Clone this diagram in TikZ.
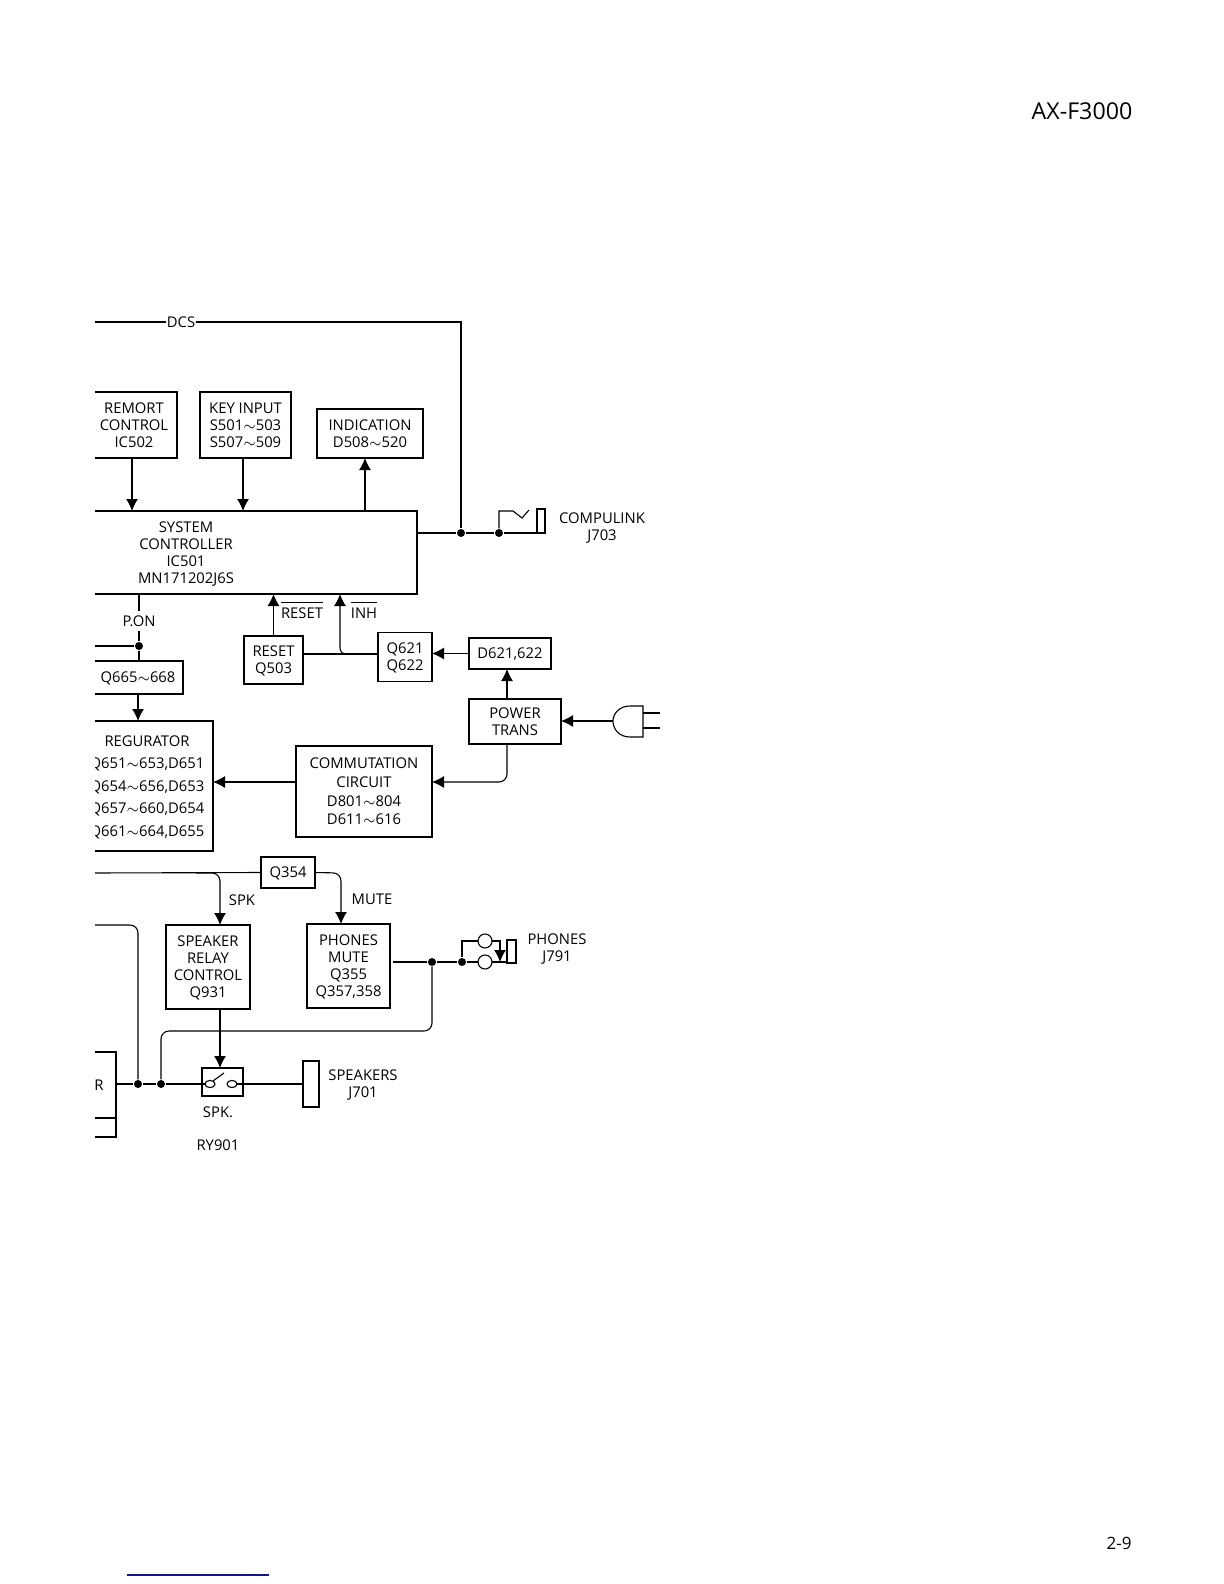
\documentclass[tikz,border=0pt]{standalone}
\usepackage{fontspec}
\setmainfont{Open Sans}
\usetikzlibrary{arrows.meta,shapes.geometric}
\newcommand{\barred}[1]{$\overline{\mbox{\rule{0pt}{6.6pt}#1}}$}
\begin{document}
\begin{tikzpicture}[
  x=0.5pt, y=-0.5pt,
  >={Latex[length=6pt,width=6pt]},
  line width=0.55pt,
  boxsize/.style 2 args={minimum width=#1*0.5pt, minimum height=#2*0.5pt},
  blockbox/.style={draw, rectangle, inner sep=0pt, outer sep=0pt, align=center, text depth=-0.6pt, font=\fontsize{7.4}{8.5}\selectfont},
  prop/.style={inner sep=0pt, align=center, text depth=-0.6pt, font=\fontsize{7.4}{8.5}\selectfont},
  dot/.style={circle, fill=black, inner sep=0pt, minimum size=4pt},
  contact/.style={draw, circle, inner sep=0pt, outer sep=0pt, minimum size=7pt},
  relaycontact/.style={draw, ellipse, inner sep=0pt, outer sep=0pt, minimum width=5pt, minimum height=3.6pt}
]
  \useasboundingbox (0,0) rectangle (1224,1584);
  \clip (95,0) rectangle (1224,1584);

  \node[blockbox, boxsize={86}{66}] (remort) at (134,425) {REMORT\\CONTROL\\IC502};
  \node[blockbox, boxsize={91}{66}] (keyinput) at (245.5,425) {KEY INPUT\\S501$\sim$503\\S507$\sim$509};
  \node[blockbox, boxsize={106}{49}] (indication) at (370,433.5) {INDICATION\\D508$\sim$520};
  \node[blockbox, boxsize={462}{83}] (syscon) at (186,552.5) {SYSTEM\\CONTROLLER\\IC501\\MN171202J6S};
  \node[blockbox, boxsize={90}{33}] (qsix) at (138,677.5) {Q665$\sim$668};
  \node[blockbox, boxsize={132}{130}, font=\fontsize{7.4}{11.25}\selectfont] (regurator) at (147,786) {REGURATOR\\Q651$\sim$653,D651\\Q654$\sim$656,D653\\Q657$\sim$660,D654\\Q661$\sim$664,D655};
  \node[blockbox, boxsize={59}{48}] (resetq) at (273.5,660) {RESET\\Q503};
  \node[blockbox, boxsize={54}{49}] (qinh) at (405,657) {Q621\\Q622};
  \node[blockbox, boxsize={82}{31}] (diode) at (510,653.5) {D621,622};
  \node[blockbox, boxsize={92}{45}] (power) at (515,721.5) {POWER\\TRANS};
  \node[blockbox, boxsize={136}{91}, font=\fontsize{7.4}{9.35}\selectfont] (commutation) at (364,791.5) {COMMUTATION\\CIRCUIT\\D801$\sim$804\\D611$\sim$616};
  \node[blockbox, boxsize={54}{31}] (qmute) at (288,872.5) {Q354};
  \node[blockbox, boxsize={84}{84}] (speaker) at (208,967) {SPEAKER\\RELAY\\CONTROL\\Q931};
  \node[blockbox, boxsize={83}{84}] (phones) at (348.5,966) {PHONES\\MUTE\\Q355\\Q357,358};
  \node[blockbox, boxsize={34}{66}] (amp) at (99,1085) {R};
  \node[blockbox, boxsize={34}{19}] (ampnext) at (99,1127.5) {};
  \node[blockbox, boxsize={41}{28}] (relay) at (222.5,1082) {};
  \node[blockbox, boxsize={16}{46}] (spjack) at (311,1084) {};
  \node[blockbox, boxsize={8}{24}] (compjack) at (541,521) {};
  \node[blockbox, boxsize={9}{23}] (phjack) at (511.5,951.5) {};

  \node[prop] (dcs) at (181,322) {DCS};
  \node[prop, outer sep=2.5pt] (pon) at (139,621) {P.ON};
  \node[prop] (resetlabel) at (302,610) {\barred{RESET}};
  \node[prop] (inhlabel) at (364,610) {\barred{INH}};
  \node[prop] (spklabel) at (242,900) {SPK};
  \node[prop] (mutelabel) at (372,899) {MUTE};
  \node[prop] (complabel) at (602,526.5) {COMPULINK\\J703};
  \node[prop] (phlabel) at (557,947.5) {PHONES\\J791};
  \node[prop] (splabel) at (363,1083.5) {SPEAKERS\\J701};
  \node[prop] (spkdot) at (218,1112) {SPK.};
  \node[prop] (rylabel) at (218,1145) {RY901};
  \node[prop, font=\fontsize{11.6}{13}\selectfont] (model) at (1082,111) {AX-F3000};
  \node[prop, font=\fontsize{8.5}{10}\selectfont] (page) at (1119,1543) {2-9};

  \node[dot] (jsys) at (461,533) {};
  \node[dot] (jcomp) at (499,533) {};
  \node[dot] (jon) at (139,646) {};
  \node[dot] (jph) at (432,962) {};
  \node[dot] (jjack) at (462,962) {};
  \node[dot] (jamp) at (138,1084) {};
  \node[dot] (jrel) at (161,1084) {};
  \node[contact] (cupper) at (485,941) {};
  \node[contact] (clower) at (485,962) {};
  \node[relaycontact] (rleft) at (210,1084) {};
  \node[relaycontact] (rright) at (232,1084) {};

  \coordinate (dcsleft) at (90,322);
  \coordinate (onleft) at (90,646);
  \coordinate (qleft) at (90,873);
  \coordinate (spkstart) at (196,873);
  \coordinate (spkbend) at (220,873);
  \coordinate (inhbend) at (340,654);
  \coordinate (ampleft) at (90,925);
  \coordinate (muteright) at (341,873);
  \coordinate (relbend) at (161,1031);
  \coordinate (powerbend) at (507,782);
  \coordinate (plugtip) at (613,721);

  \draw (dcsleft) -- (dcs);
  \draw (dcs) -- (dcs -| jsys) -- (jsys);
  \draw (syscon.east |- jsys) -- (jsys) -- (jcomp) -- (compjack.south west);
  \draw (jcomp) -- (499,511) -- (513,511) -- (522,518) -- (529,510);

  \draw[->] ([xshift=-1pt]remort.south) -- ([xshift=-1pt]remort.south |- syscon.north);
  \draw[->] ([xshift=-1.25pt]keyinput.south) -- ([xshift=-1.25pt]keyinput.south |- syscon.north);
  \draw[->] ([xshift=-2.5pt]indication.south |- syscon.north) -- ([xshift=-2.5pt]indication.south);

  \draw (jon |- syscon.south) -- (pon);
  \draw (pon) -- (jon) -- (jon |- qsix.north);
  \draw (onleft) -- (jon);
  \draw[->] (qsix.south) -- (qsix.south |- regurator.north);

  \draw[->] (resetq.north) -- (resetq.north |- syscon.south);
  \draw (resetq.east |- inhbend) -- (qinh.west |- inhbend);
  \draw[->, rounded corners=3pt] (qinh.west |- inhbend) -- (inhbend) -- (inhbend |- syscon.south);
  \draw[->] (diode.west) -- (qinh.east |- diode.west);
  \draw[->] (power.north -| powerbend) -- (diode.south -| powerbend);
  \draw[->] (plugtip) -- (power.east |- plugtip);
  \draw (643,706) -- (630,706) .. controls (619,706) and (613,714) .. (plugtip) .. controls (613,729) and (619,737) .. (630,737) -- (643,737) -- cycle;
  \draw (643,713) -- (660,713) (643,728) -- (660,728);
  \draw[->, rounded corners=4pt] (power.south -| powerbend) -- (powerbend) -- (commutation.east |- powerbend);
  \draw[->] (commutation.west |- powerbend) -- (regurator.east |- powerbend);

  \draw (qleft) -- (qmute.west);
  \draw[->, rounded corners=4pt] (spkstart) -- (spkbend) -- (spkbend |- speaker.north);
  \draw[->, rounded corners=4pt] (qmute.east) -- (muteright) -- (muteright |- phones.north);

  \draw ([xshift=1.5pt]phones.east |- jph) -- (jph) -- (jjack) -- (clower);
  \draw (jjack) -- (jjack |- cupper) -- (cupper);
  \draw (clower) -- (clower -| phjack.west);
  \draw[->] (cupper) -- (500,941) -- (500,962);
  \draw[rounded corners=4pt] (jph) -- (jph |- relbend) -- (relbend) -- (jrel);

  \draw[rounded corners=4pt] (ampleft) -- (jamp |- ampleft) -- (jamp);
  \draw (amp.east |- jamp) -- (jamp) -- (jrel) -- (rleft);
  \draw (rright) -- (spjack.west);
  \draw (213,1081) -- (224,1073);
  \draw[->] (spkbend |- speaker.south) -- (spkbend |- relay.north);

  \draw[draw={rgb,255:red,20;green,20;blue,140}, line width=0.8pt] (127,1575) -- (269,1575);
\end{tikzpicture}
\end{document}
